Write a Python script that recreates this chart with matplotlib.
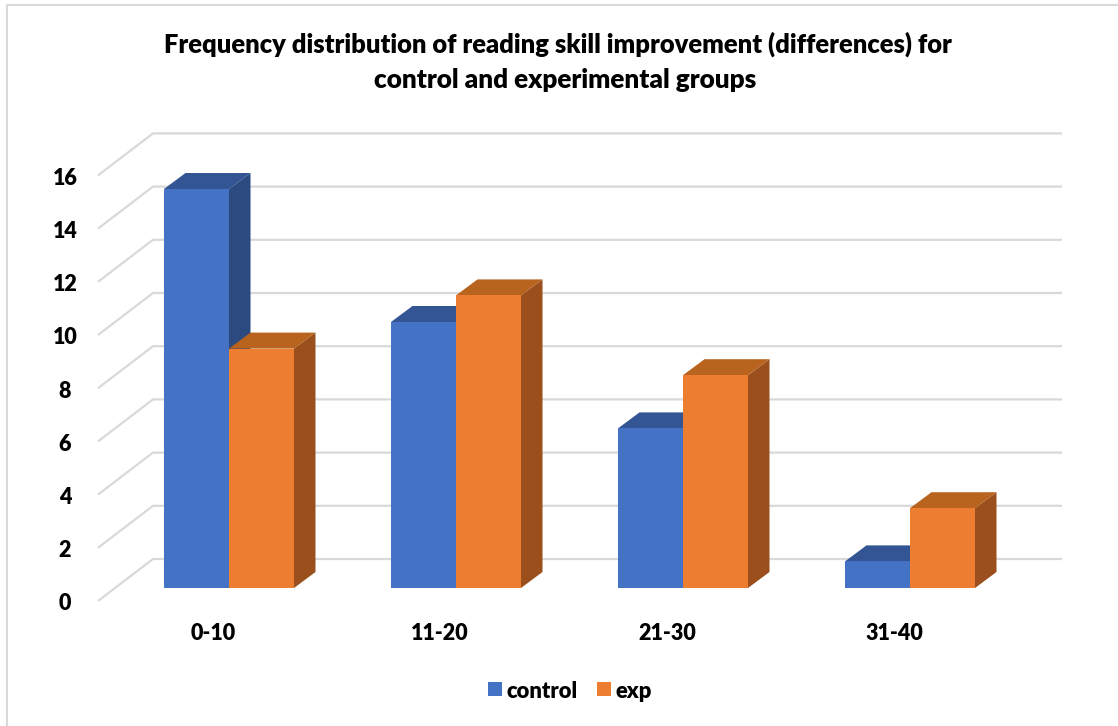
import matplotlib as mpl
mpl.use('Agg')
import matplotlib.pyplot as plt

categories = ['0-10', '11-20', '21-30', '31-40']
control = [15, 10, 6, 1]
exp = [9, 11, 8, 3]
yticks = [0, 2, 4, 6, 8, 10, 12, 14, 16]

plt.rcParams['font.family'] = ['Lato', 'DejaVu Sans']
plt.rcParams['font.weight'] = 'heavy'

W, H = 1118, 726
fig = plt.figure(figsize=(W / 100, H / 100), dpi=100)
ax = fig.add_axes([0, 0, 1, 1])

# one category = 227 px, one y unit = 26.6 px, bar base sits at pixel 588
px_x = 227.0
px_y = 26.6
ax.set_xlim(-229 / px_x, (W - 229) / px_x)
ax.set_ylim((588 - H) / px_y, 588 / px_y)
ax.axis('off')

bar_w = 65 / px_x
dx, dy = 21.5 / px_x, 16 / px_y      # depth of a bar
wall_x = -76 / px_x                  # back wall left edge
wall_y = 29 / px_y                   # back wall raise
front_x = -131 / px_x
front_y = -13 / px_y
right_x = 833 / px_x

# gridlines with the slanted part on the side wall
for v in yticks:
    ax.plot([front_x, wall_x, right_x], [v + front_y, v + wall_y, v + wall_y],
            color='#d9d9d9', lw=1.6, zorder=1, solid_capstyle='butt')
    ax.text(-164 / px_x, v + front_y - 0.11, str(v), ha='center', va='center', fontsize=15.5)


def draw_bar(left, v, front, top, side):
    right = left + bar_w
    ax.fill([right, right + dx, right + dx, right], [0, dy, v + dy, v], color=side, lw=0, zorder=3)
    ax.fill([left, left + dx, right + dx, right], [v, v + dy, v + dy, v], color=top, lw=0, zorder=3)
    ax.bar(left, v, width=bar_w, align='edge', color=front, lw=0, zorder=3)


for i, cat in enumerate(categories):
    draw_bar(i - bar_w, control[i], '#4472c4', '#335593', '#2a4a80')
    draw_bar(i, exp[i], '#ed7d31', '#b8641f', '#9a4f1c')
    ax.text(i - 16 / px_x, -45.5 / px_y, cat, ha='center', va='center', fontsize=15.5)

# chart border, left and top only show up in the picture
ax.plot([(7 - 229) / px_x] * 2, [(588 - H) / px_y, (588 - 5) / px_y], color='#d9d9d9', lw=1.5, zorder=0)
ax.plot([(7 - 229) / px_x, (W - 229) / px_x], [(588 - 5) / px_y] * 2, color='#d9d9d9', lw=1.5, zorder=0)

# title
fig.text(558 / W, 1 - 44 / H, 'Frequency distribution of reading skill improvement (differences) for',
         ha='center', va='center', fontsize=18.4)
fig.text(565 / W, 1 - 80 / H, 'control and experimental groups', ha='center', va='center', fontsize=18.8)

# legend
for x0, tx, col, lab in [(488, 507, '#4472c4', 'control'), (597, 616, '#ed7d31', 'exp')]:
    fig.patches.append(mpl.patches.Rectangle((x0 / W, 1 - 696 / H), 14 / W, 14 / H, transform=fig.transFigure,
                                             facecolor=col, lw=0, figure=fig))
    fig.text(tx / W, 1 - 691 / H, lab, ha='left', va='center', fontsize=15.8)

fig.savefig('out.png', dpi=100)
